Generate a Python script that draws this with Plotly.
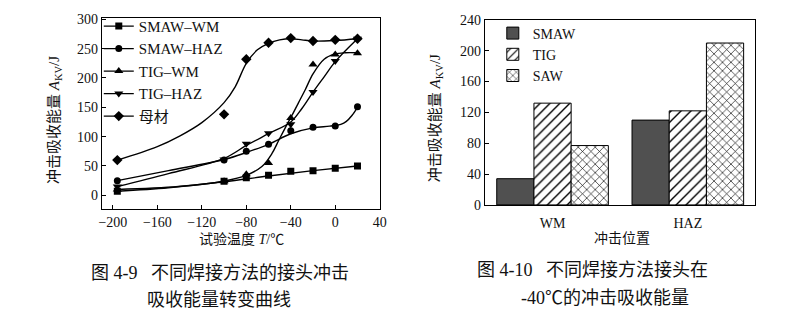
import plotly.graph_objects as go

W, H = 800, 331

# ---------------- Figure 4-9 data ----------------
temps = [-196, -100, -80, -60, -40, -20, 0, 20]
smaw_wm = [7, 24, 30, 34, 41, 42, 46, 50]
smaw_haz = [25, 60, 75, 87, 110, 116, 118, 151]
tig_wm = [10, 24, 36, 55, 132, 223, 240, 242]
tig_haz = [15, 61, 88, 106, 121, 176, 229, 267]
base_metal = [60, 138, 232, 260, 268, 263, 265, 267]

# fitted curves as drawn in the picture
smaw_wm_curve_t = [-196, -150, -100, -60, -20, 20]
smaw_wm_curve_a = [7, 13, 23, 33, 42, 50]
smaw_haz_curve_t = [-196, -150, -100, -80, -60, -40, -20, -5, 5, 10, 15, 20]
smaw_haz_curve_a = [25, 42, 61, 73, 87, 105, 115, 118, 121, 126, 136, 150]
tig_wm_curve_t = [-196, -141, -101, -79, -66, -57, -51, -45, -39, -33, -27, -20, -10, 0, 9, 20]
tig_wm_curve_a = [10, 15, 24, 35, 49, 71, 93, 115, 136, 158, 180, 207, 232, 241, 243, 243]
tig_haz_curve_t = [-196, -150, -100, -80, -60, -40, -30, -20, -10, 0, 20]
tig_haz_curve_a = [15, 37, 63, 85, 105, 125, 148, 176, 202, 228, 267]
base_curve_t = [-196, -160, -140, -120, -100, -90, -80, -70, -60, -50, -40, -30, -20, 0, 20]
base_curve_a = [60, 83, 101, 124, 158, 185, 225, 248, 259, 265, 267, 265, 263, 264, 267]

series_names = ["SMAW–WM", "SMAW–HAZ", "TIG–WM", "TIG–HAZ", "母材"]
x_ticks = [-200, -160, -120, -80, -40, 0, 40]
y_ticks_left = [0, 50, 100, 150, 200, 250, 300]

# ---------------- Figure 4-10 data ----------------
positions = ["WM", "HAZ"]
bar_smaw = [34, 110]
bar_tig = [132, 122]
bar_saw = [77, 210]
bar_names = ["SMAW", "TIG", "SAW"]
y_ticks_right = [0, 40, 80, 120, 160, 200, 240]

SERIF = "Liberation Serif, Times New Roman, Noto Sans CJK SC, serif"

fig = go.Figure()

markers = ["square", "circle", "triangle-up", "triangle-down", "diamond"]
msizes = [7, 7, 8, 8, 8]
values = [smaw_wm, smaw_haz, tig_wm, tig_haz, base_metal]
curves = [(smaw_wm_curve_t, smaw_wm_curve_a), (smaw_haz_curve_t, smaw_haz_curve_a),
          (tig_wm_curve_t, tig_wm_curve_a), (tig_haz_curve_t, tig_haz_curve_a),
          (base_curve_t, base_curve_a)]

for name, sym, ms, vals, (ct, ca) in zip(series_names, markers, msizes, values, curves):
    fig.add_trace(go.Scatter(x=ct, y=ca, mode="lines", line=dict(color="black", width=1.4, shape="spline", smoothing=1.0),
                             showlegend=False, hoverinfo="skip", xaxis="x", yaxis="y"))
    fig.add_trace(go.Scatter(x=temps, y=vals, mode="markers", marker=dict(symbol=sym, size=ms, color="black"),
                             showlegend=False, xaxis="x", yaxis="y"))
    fig.add_trace(go.Scatter(x=[None], y=[None], mode="lines+markers", name=name,
                             line=dict(color="black", width=1.4), marker=dict(symbol=sym, size=ms, color="black"),
                             xaxis="x", yaxis="y", legend="legend"))

fig.add_trace(go.Bar(x=positions, y=bar_smaw, name=bar_names[0], xaxis="x2", yaxis="y2", legend="legend2",
                     marker=dict(color="#505050", line=dict(color="black", width=1))))
fig.add_trace(go.Bar(x=positions, y=bar_tig, name=bar_names[1], xaxis="x2", yaxis="y2", legend="legend2",
                     marker=dict(color="black", line=dict(color="black", width=1),
                                 pattern=dict(shape="/", fgcolor="black", bgcolor="white", size=7, solidity=0.2, fillmode="replace"))))
fig.add_trace(go.Bar(x=positions, y=bar_saw, name=bar_names[2], xaxis="x2", yaxis="y2", legend="legend2",
                     marker=dict(color="black", line=dict(color="black", width=1),
                                 pattern=dict(shape="x", fgcolor="black", bgcolor="white", size=6, solidity=0.2, fillmode="replace"))))

def py(p):
    return 1 - p / H

def px(p):
    return p / W

axis_common = dict(showline=True, linecolor="black", linewidth=1, mirror=True, showgrid=False, zeroline=False,
                   ticks="inside", ticklen=4, tickcolor="black", tickfont=dict(family=SERIF, size=14, color="#111"))

fig.update_layout(
    width=W, height=H, margin=dict(l=0, r=0, t=0, b=0),
    paper_bgcolor="white", plot_bgcolor="white",
    barmode="group", bargap=0.175, bargroupgap=0,
    xaxis=dict(domain=[px(100), px(381.5)], range=[-210, 40], tickvals=x_ticks, anchor="y", **axis_common),
    yaxis=dict(domain=[py(212), py(11.7)], range=[-24, 302], tickvals=y_ticks_left, anchor="x", **axis_common),
    xaxis2=dict(domain=[px(488), px(762)], anchor="y2", showline=True, linecolor="black", linewidth=1, mirror=True,
                showgrid=False, ticks="", ticklabelstandoff=5, tickfont=dict(family=SERIF, size=14, color="#111")),
    yaxis2=dict(domain=[py(207.3), py(13.5)], range=[0, 240], tickvals=y_ticks_right, anchor="x2", **axis_common),
    legend=dict(x=px(97), y=py(3), xanchor="left", yanchor="top", bgcolor="rgba(0,0,0,0)",
                font=dict(family=SERIF, size=15, color="#111"), itemwidth=30, tracegroupgap=0),
    legend2=dict(x=px(496), y=py(11), xanchor="left", yanchor="top", bgcolor="rgba(0,0,0,0)",
                 font=dict(family=SERIF, size=14, color="#111"), itemwidth=30),
    showlegend=True,
)

annots = [
    dict(text="冲击吸收能量 <i>A</i><sub>KV</sub>/J", x=px(52), y=py(118), textangle=-90, size=15),
    dict(text="试验温度 <i>T</i>/℃", x=px(242), y=py(244), textangle=0, size=14),
    dict(text="冲击吸收能量 <i>A</i><sub>KV</sub>/J", x=px(438), y=py(117), textangle=-90, size=15),
    dict(text="冲击位置", x=px(627), y=py(242), textangle=0, size=14),
    dict(text="图 4-9   不同焊接方法的接头冲击", x=px(220), y=py(279), textangle=0, size=18),
    dict(text="吸收能量转变曲线", x=px(219), y=py(307), textangle=0, size=18),
    dict(text="图 4-10   不同焊接方法接头在", x=px(597), y=py(276), textangle=0, size=18),
    dict(text="-40℃的冲击吸收能量", x=px(610), y=py(305), textangle=0, size=18),
]
for a in annots:
    fig.add_annotation(text=a["text"], x=a["x"], y=a["y"], xref="paper", yref="paper", showarrow=False,
                       textangle=a["textangle"], xanchor="center", yanchor="middle",
                       font=dict(family=SERIF, size=a["size"], color="#111"))

fig.write_html("out.html")
